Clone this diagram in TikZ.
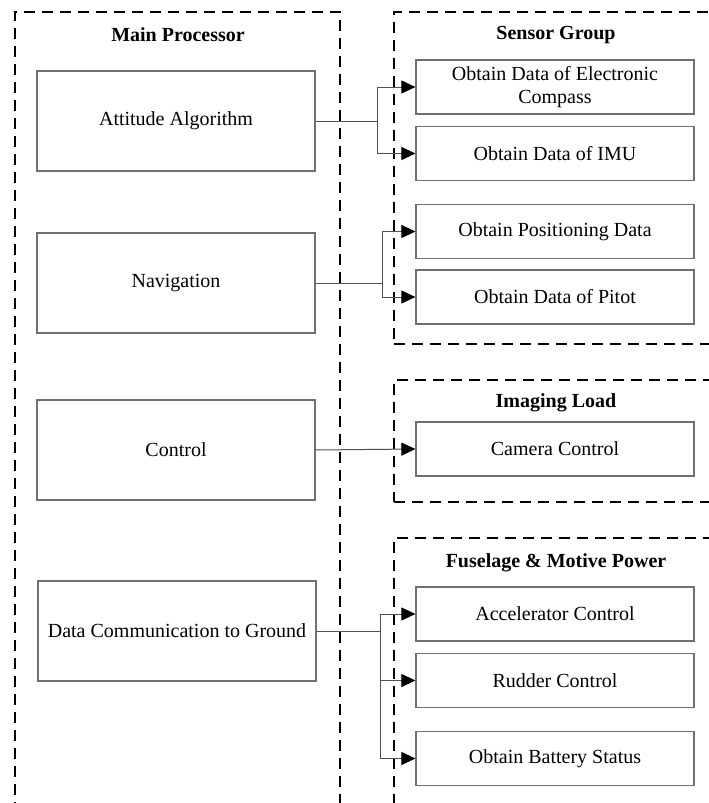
\documentclass[tikz,border=0pt]{standalone}
\usepackage{fontspec}
\setmainfont{Liberation Serif}
\usetikzlibrary{arrows.meta, positioning, backgrounds}
\definecolor{boxgray}{HTML}{707070}
\definecolor{linegray}{HTML}{505050}

\begin{document}
\begin{tikzpicture}[x=1pt, y=-1pt,
  block/.style={rectangle, draw=boxgray, line width=1.2pt, minimum width=278pt,
                minimum height=100pt, inner sep=0pt, align=center,
                font=\fontsize{20}{23}\selectfont},
  item/.style={block, minimum height=54pt},
  frame/.style={rectangle, draw=black, line width=2.2pt,
                dash pattern=on 11pt off 7pt, inner sep=0pt},
  title/.style={font=\fontsize{20}{23}\selectfont\bfseries},
  link/.style={line width=1pt, linegray},
  arr/.style={link, -{Triangle[length=14pt, width=13pt, black]}}
]
\clip (0,0) rectangle (709,803);

% Main processor tasks
\node[block] (att) at (176,121) {Attitude Algorithm};
\node[block] (nav) at (176,283) {Navigation};
\node[block] (ctrl) at (176,450) {Control};
\node[block] (comm) at (177,631) {Data Communication to Ground};

% Sensor group
\node[item] (compass) at (555,87) {Obtain Data of Electronic\\Compass};
\node[item] (imu) at (555,153.5) {Obtain Data of IMU};
\node[item] (pos) at (555,231.5) {Obtain Positioning Data};
\node[item] (pitot) at (555,297) {Obtain Data of Pitot};

% Imaging load
\node[item] (camera) at (555,449) {Camera Control};

% Fuselage and motive power
\node[item] (accel) at (555,614) {Accelerator Control};
\node[item] (rudder) at (555,680.5) {Rudder Control};
\node[item] (battery) at (555,758.5) {Obtain Battery Status};

% Dashed frames
\begin{scope}[on background layer]
  \node[frame, minimum width=325pt, minimum height=828pt] (gmain) at (177.5,426) {};
  \node[frame, minimum width=351pt, minimum height=332pt] (gsensor) at (569.5,178) {};
  \node[frame, minimum width=351pt, minimum height=122pt] (gimage) at (569.5,441) {};
  \node[frame, minimum width=351pt, minimum height=302pt] (gbody) at (569.5,689) {};
\end{scope}

\node[title] (tmain) at (178,35) {Main Processor};
\node[title] (tsensor) at (556,35) {Sensor Group};
\node[title] (timage) at (556,403) {Imaging Load};
\node[title] (tbody) at (556,563) {Fuselage \& Motive Power};

% Connectors
\coordinate (f1) at (377,121);
\coordinate (f2) at (382,283);
\coordinate (f3) at (380,631);

\draw[link] (att.east) -- (f1);
\draw[arr] (f1) |- (compass.west);
\draw[arr] (f1) |- (imu.west);

\draw[link] (nav.east) -- (f2);
\draw[arr] (f2) |- (pos.west);
\draw[arr] (f2) |- (pitot.west);

\draw[arr] (ctrl.east) -- (camera.west);

\draw[link] (comm.east) -- (f3);
\draw[arr] (f3) |- (accel.west);
\draw[arr] (f3) |- (rudder.west);
\draw[arr] (f3) |- (battery.west);

\end{tikzpicture}
\end{document}
